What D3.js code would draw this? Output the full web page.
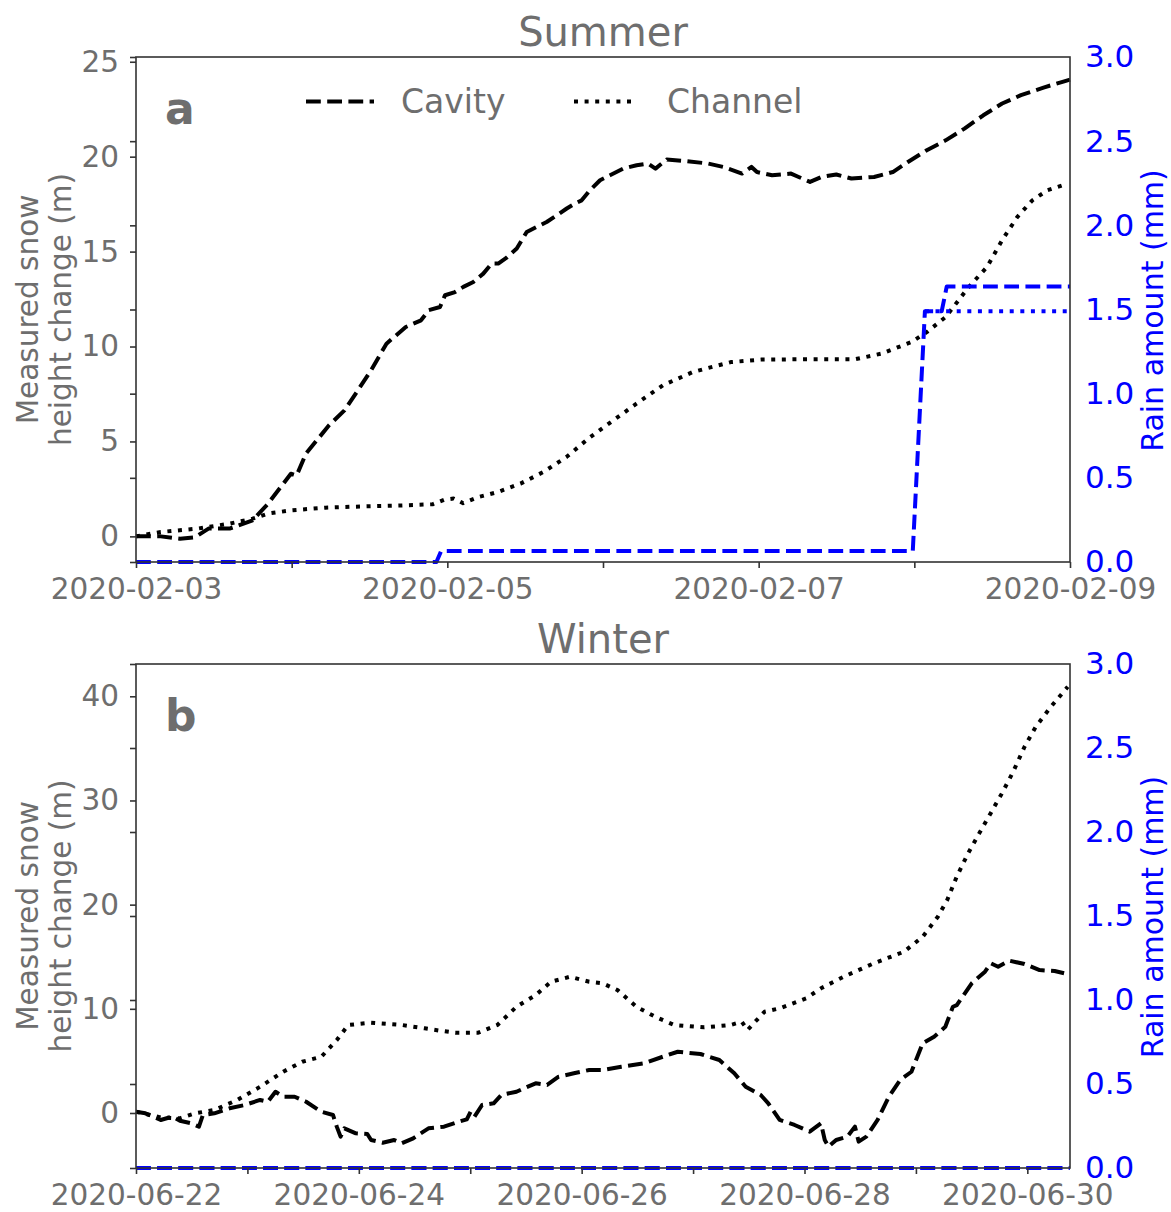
<!DOCTYPE html>
<html>
<head>
<meta charset="utf-8">
<script src="https://cdnjs.cloudflare.com/ajax/libs/d3/7.8.5/d3.min.js"></script>
<style>
  body { margin: 0; background: #fff; }
  svg text { font-family: "DejaVu Sans", sans-serif; }
</style>
</head>
<body>
<svg id="chart" width="1171" height="1212"></svg>
<script>
// times are in days after the panel start date
const summerCavityT = [0, 0.159, 0.283, 0.379, 0.466, 0.601, 0.749, 0.848, 0.995, 1.032, 1.092, 1.240, 1.339, 1.425, 1.510, 1.609, 1.733, 1.831, 1.880, 1.953, 1.985, 2.049, 2.103, 2.167, 2.231, 2.285, 2.327, 2.381, 2.446, 2.510, 2.574, 2.638, 2.703, 2.767, 2.820, 2.863, 2.916, 2.981, 3.045, 3.130, 3.216, 3.288, 3.337, 3.409, 3.530, 3.674, 3.772, 3.893, 3.954, 3.989, 4.086, 4.208, 4.257, 4.330, 4.402, 4.499, 4.596, 4.741, 4.862, 4.959, 5.080, 5.201, 5.322, 5.443, 5.564, 5.685, 5.830, 5.952, 6.0];
const summerCavity = [0, 0, -0.12, -0.05, 0.41, 0.41, 0.84, 1.72, 3.30, 3.21, 4.36, 5.85, 6.64, 7.69, 8.75, 10.15, 11.03, 11.38, 11.91, 12.08, 12.70, 12.87, 13.14, 13.40, 13.84, 14.37, 14.37, 14.68, 15.16, 16.03, 16.30, 16.56, 16.91, 17.27, 17.53, 17.70, 18.23, 18.76, 19.02, 19.37, 19.55, 19.64, 19.37, 19.85, 19.77, 19.64, 19.46, 19.11, 19.46, 19.19, 19.02, 19.11, 18.93, 18.67, 18.93, 19.06, 18.85, 18.93, 19.19, 19.72, 20.34, 20.86, 21.48, 22.18, 22.80, 23.24, 23.64, 23.94, 24.06];

const summerChannelT = [0, 0.159, 0.405, 0.601, 0.749, 0.848, 0.995, 1.216, 1.462, 1.707, 1.905, 1.979, 2.040, 2.101, 2.200, 2.322, 2.470, 2.617, 2.765, 2.913, 3.022, 3.215, 3.385, 3.578, 3.821, 4.014, 4.305, 4.620, 4.790, 4.983, 5.080, 5.201, 5.346, 5.467, 5.564, 5.661, 5.758, 5.855, 5.952];
const summerChannel = [0, 0.23, 0.42, 0.67, 0.93, 1.20, 1.37, 1.51, 1.58, 1.63, 1.69, 1.93, 1.99, 1.75, 2.07, 2.33, 2.78, 3.39, 4.18, 5.20, 5.85, 6.99, 7.96, 8.66, 9.18, 9.31, 9.33, 9.33, 9.63, 10.24, 10.76, 11.55, 13.10, 14.19, 15.60, 16.82, 17.70, 18.23, 18.49];

const summerRainCavityT = [0, 1.93, 1.96, 4.99, 5.068, 5.176, 5.208, 6.0];
const summerRainCavity = [0, 0, 0.065, 0.065, 1.49, 1.49, 1.636, 1.636];
const summerRainChannelT = [5.068, 6.0];
const summerRainChannel = [1.49, 1.49];

const winterCavityT = [0, 0.084, 0.222, 0.325, 0.394, 0.497, 0.565, 0.600, 0.703, 0.840, 0.977, 1.114, 1.183, 1.252, 1.321, 1.424, 1.527, 1.664, 1.768, 1.802, 1.836, 1.870, 1.973, 2.076, 2.110, 2.214, 2.317, 2.385, 2.488, 2.625, 2.764, 2.900, 2.969, 3.003, 3.038, 3.106, 3.210, 3.279, 3.415, 3.484, 3.587, 3.690, 3.793, 3.930, 4.068, 4.187, 4.356, 4.559, 4.728, 4.863, 5.066, 5.236, 5.370, 5.472, 5.607, 5.675, 5.777, 5.911, 6.047, 6.148, 6.182, 6.216, 6.284, 6.385, 6.453, 6.486, 6.555, 6.656, 6.757, 6.859, 6.960, 7.061, 7.163, 7.264, 7.332, 7.367, 7.501, 7.620, 7.671, 7.738, 7.839, 7.975, 8.110, 8.245, 8.330];
const winterCavity = [0.12, -0.03, -0.67, -0.35, -0.74, -0.99, -1.31, -0.19, -0.03, 0.45, 0.77, 1.25, 1.08, 2.04, 1.56, 1.56, 1.08, 0.12, -0.19, -1.31, -2.27, -1.47, -1.95, -2.02, -2.59, -2.85, -2.59, -2.91, -2.43, -1.47, -1.31, -0.83, -0.61, 0.12, -0.35, 0.77, 0.93, 1.73, 2.04, 2.37, 2.85, 2.69, 3.48, 3.81, 4.13, 4.13, 4.44, 4.77, 5.40, 5.88, 5.66, 5.09, 3.81, 2.52, 1.73, 0.93, -0.67, -1.15, -1.79, -0.99, -2.59, -3.23, -2.59, -2.27, -1.31, -2.75, -2.27, -0.67, 1.56, 3.17, 3.96, 6.69, 7.32, 8.28, 10.20, 10.36, 12.45, 13.56, 14.37, 14.04, 14.62, 14.30, 13.72, 13.63, 13.41];

const winterChannelT = [0, 0.222, 0.394, 0.531, 0.703, 0.909, 1.114, 1.321, 1.492, 1.664, 1.802, 1.905, 2.110, 2.385, 2.591, 2.729, 2.866, 3.072, 3.244, 3.415, 3.587, 3.725, 3.896, 4.068, 4.187, 4.322, 4.491, 4.660, 4.829, 5.100, 5.337, 5.437, 5.489, 5.641, 5.777, 6.014, 6.148, 6.352, 6.622, 6.893, 7.061, 7.197, 7.281, 7.366, 7.468, 7.568, 7.670, 7.772, 7.873, 7.975, 8.076, 8.212, 8.313, 8.363];
const winterChannel = [0.12, -0.42, -0.51, -0.03, 0.29, 1.25, 2.52, 3.96, 4.92, 5.40, 7.00, 8.45, 8.67, 8.45, 8.13, 7.90, 7.71, 7.71, 8.45, 10.20, 11.32, 12.60, 13.08, 12.60, 12.45, 11.80, 10.20, 9.24, 8.45, 8.22, 8.45, 8.76, 7.97, 9.72, 10.05, 11.00, 11.97, 13.08, 14.37, 15.48, 16.92, 18.84, 20.44, 22.68, 24.92, 26.84, 28.76, 30.68, 32.76, 35.16, 37.08, 39.00, 40.28, 40.92];

const winterRainT = [0, 8.38];
const winterRainCavity = [0, 0];
const winterRainChannel = [0, 0];

const leftTicksA = [0, 5, 10, 15, 20, 25];
const leftTicksB = [0, 10, 20, 30, 40];
const rainTicks = [0, 0.5, 1.0, 1.5, 2.0, 2.5, 3.0];

const GRAY = "#6e6e6e";
const BLUE = "#0000ff";
const DAY = 86400000;

const svg = d3.select("#chart");

function zip(start, ts, vs) {
  return ts.map((t, i) => ({ date: new Date(start.getTime() + t * DAY), v: vs[i] }));
}

function panel(opt) {
  const left = 136, right = 1070;
  const x = d3.scaleUtc().domain([opt.start, opt.end]).range([left, right]);
  const y = d3.scaleLinear().domain(opt.ydomain).range([opt.bottom, opt.top]);
  const yR = d3.scaleLinear().domain([0, 3]).range([opt.bottom, opt.top]);
  const g = svg.append("g");

  const lineL = d3.line().x(d => x(d.date)).y(d => y(d.v));
  const lineR = d3.line().x(d => x(d.date)).y(d => yR(d.v));

  const series = [
    { data: zip(opt.start, opt.cavT, opt.cav), line: lineL, color: "#000", dash: "14.8,6.4" },
    { data: zip(opt.start, opt.chanT, opt.chan), line: lineL, color: "#000", dash: "4,6.6" },
    { data: zip(opt.start, opt.rainCavT, opt.rainCav), line: lineR, color: BLUE, dash: "14.8,6.4" },
    { data: zip(opt.start, opt.rainChanT, opt.rainChan), line: lineR, color: BLUE, dash: "4,6.6" }
  ];
  series.forEach(s => {
    g.append("path")
      .datum(s.data)
      .attr("d", s.line)
      .attr("fill", "none")
      .attr("stroke", s.color)
      .attr("stroke-width", 4)
      .attr("stroke-dasharray", s.dash)
      .attr("stroke-linejoin", "round");
  });

  // frame (drawn over the lines like matplotlib spines)
  g.append("rect")
    .attr("x", left).attr("y", opt.top)
    .attr("width", right - left).attr("height", opt.bottom - opt.top)
    .attr("fill", "none").attr("stroke", "#333").attr("stroke-width", 1.6);

  // x axis, a tick every day and a label every other day
  const days = d3.utcDay.range(opt.start, new Date(opt.end.getTime() + 1));
  const xAxis = d3.axisBottom(x)
    .tickValues(days)
    .tickSize(6).tickPadding(10)
    .tickFormat((d, i) => i % 2 === 0 ? d3.utcFormat("%Y-%m-%d")(d) : "");
  const gx = g.append("g").attr("transform", `translate(0,${opt.bottom})`).call(xAxis);

  // left axis
  const gy = g.append("g").attr("transform", `translate(${left},0)`)
    .call(d3.axisLeft(y).tickValues(opt.leftTicks).tickSize(6).tickPadding(11));

  // rain ticks also sit on the left spine, labels on the right
  const gyr = g.append("g").attr("transform", `translate(${left},0)`)
    .call(d3.axisLeft(yR).tickValues(rainTicks).tickSize(6).tickFormat(""));
  const gr = g.append("g").attr("transform", `translate(${right},0)`)
    .call(d3.axisRight(yR).tickValues(rainTicks).tickSize(0).tickPadding(15).tickFormat(d3.format(".1f")));

  [gx, gy, gyr, gr].forEach(a => a.select(".domain").remove());
  [gx, gy, gyr].forEach(a => a.selectAll(".tick line").attr("stroke", "#333").attr("stroke-width", 1.6));
  gx.selectAll("text").attr("fill", GRAY).style("font-size", "29.5px");
  gy.selectAll("text").attr("fill", GRAY).style("font-size", "29.5px");
  gr.selectAll("text").attr("fill", BLUE).style("font-size", "31px");

  const midY = (opt.top + opt.bottom) / 2;
  g.append("text").attr("transform", `translate(38,${midY}) rotate(-90)`)
    .attr("text-anchor", "middle").attr("fill", GRAY).style("font-size", "29.5px")
    .text("Measured snow");
  g.append("text").attr("transform", `translate(71,${midY}) rotate(-90)`)
    .attr("text-anchor", "middle").attr("fill", GRAY).style("font-size", "29.5px")
    .text("height change (m)");
  g.append("text").attr("transform", `translate(1163,${midY + 1}) rotate(-90)`)
    .attr("text-anchor", "middle").attr("fill", BLUE).style("font-size", "30px")
    .text("Rain amount (mm)");

  g.append("text").attr("x", (left + right) / 2).attr("y", opt.top - 11)
    .attr("text-anchor", "middle").attr("fill", GRAY).style("font-size", "40px")
    .text(opt.title);
  g.append("text").attr("x", 165).attr("y", opt.top + 67)
    .attr("fill", GRAY).style("font-size", "44px").style("font-weight", "bold")
    .text(opt.letter);

  return g;
}

const gA = panel({
  start: new Date(Date.UTC(2020, 1, 3)), end: new Date(Date.UTC(2020, 1, 9)),
  top: 57, bottom: 562, ydomain: [-1.35, 25.25], leftTicks: leftTicksA,
  cavT: summerCavityT, cav: summerCavity, chanT: summerChannelT, chan: summerChannel,
  rainCavT: summerRainCavityT, rainCav: summerRainCavity,
  rainChanT: summerRainChannelT, rainChan: summerRainChannel,
  title: "Summer", letter: "a"
});

panel({
  start: new Date(Date.UTC(2020, 5, 22)), end: new Date(Date.UTC(2020, 5, 22) + 8.383 * DAY),
  top: 664, bottom: 1168, ydomain: [-5.28, 43.1], leftTicks: leftTicksB,
  cavT: winterCavityT, cav: winterCavity, chanT: winterChannelT, chan: winterChannel,
  rainCavT: winterRainT, rainCav: winterRainCavity,
  rainChanT: winterRainT, rainChan: winterRainChannel,
  title: "Winter", letter: "b"
});

// legend, only in the top panel
const legend = gA.append("g");
[["Cavity", "14.8,6.4", 306, 401], ["Channel", "4,6.6", 574, 667]].forEach(([label, dash, x0, tx]) => {
  legend.append("line")
    .attr("x1", x0).attr("x2", x0 + (label === "Cavity" ? 68 : 60))
    .attr("y1", 101.5).attr("y2", 101.5)
    .attr("stroke", "#000").attr("stroke-width", 4).attr("stroke-dasharray", dash);
  legend.append("text").attr("x", tx).attr("y", 113)
    .attr("fill", GRAY).style("font-size", "33px").text(label);
});
</script>
</body>
</html>
